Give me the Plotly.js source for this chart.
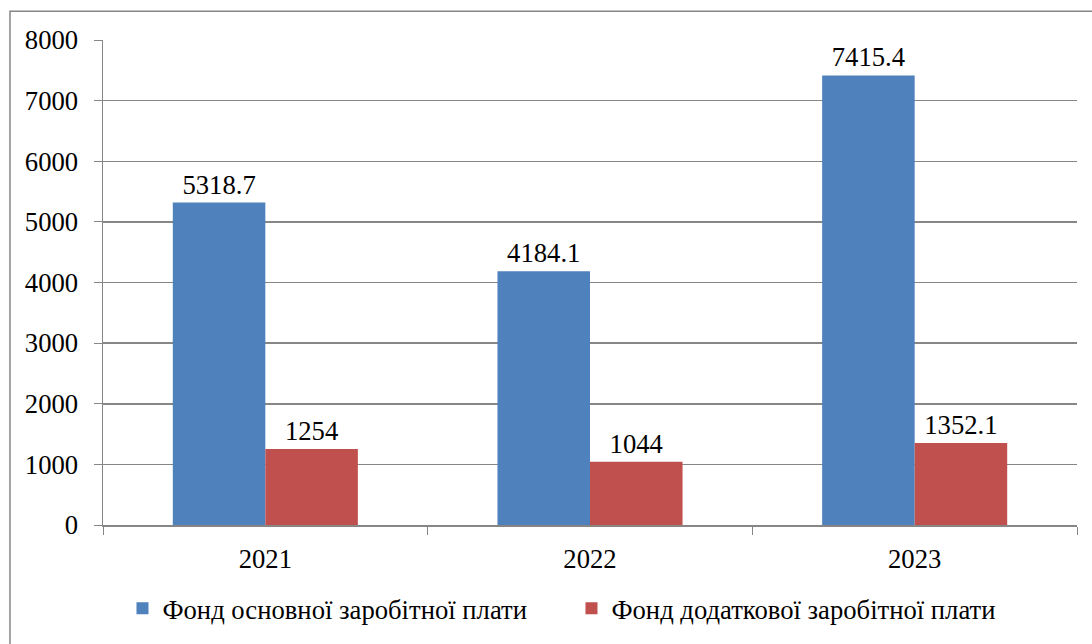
<!DOCTYPE html>
<html>
<head>
<meta charset="utf-8">
<script src="https://cdn.plot.ly/plotly-3.0.1.min.js"></script>
<style>html,body{margin:0;padding:0;background:#fff;}#chart{width:1092px;height:644px;}</style>
</head>
<body>
<div id="chart"></div>
<script>
const years = ["2021", "2022", "2023"];
const basicFund = [5318.7, 4184.1, 7415.4];
const extraFund = [1254, 1044, 1352.1];
const seriesNames = ["Фонд основної заробітної плати", "Фонд додаткової заробітної плати"];
const yTicks = [0, 1000, 2000, 3000, 4000, 5000, 6000, 7000, 8000];

const FS = 26.67;
function F(size) { return {family: "Liberation Serif", size: size || FS, color: "#000000"}; }

const traces = [
  {type: "bar", x: years, y: basicFund, name: seriesNames[0], marker: {color: "#4F81BD"},
   text: basicFund.map(String), textposition: "outside", textfont: F(FS), cliponaxis: false},
  {type: "bar", x: years, y: extraFund, name: seriesNames[1], marker: {color: "#C0504D"},
   text: extraFund.map(String), textposition: "outside", textfont: F(FS), cliponaxis: false}
];

const layout = {
  width: 1092, height: 644,
  margin: {l: 103, r: 15, t: 40, b: 117},
  paper_bgcolor: "#fff", plot_bgcolor: "#fff",
  font: F(FS),
  barmode: "group", bargap: 0.43, bargroupgap: 0,
  showlegend: true,
  legend: {orientation: "h", x: 0.02, xanchor: "left", y: -0.172, yanchor: "middle", font: F(FS),
           itemwidth: 30, entrywidth: 404, entrywidthmode: "pixels"},
  xaxis: {type: "category", tickson: "boundaries", ticks: "outside", ticklen: 8, tickcolor: "#868686",
          showline: true, linecolor: "#868686", linewidth: 1.5, showgrid: false, tickfont: F(FS),
          ticklabelstandoff: 9},
  yaxis: {range: [0, 8000], tickvals: yTicks, ticks: "outside", ticklen: 8, tickcolor: "#868686",
          showline: true, linecolor: "#868686", linewidth: 1.5, showgrid: true, gridcolor: "#868686",
          gridwidth: 1.5, zeroline: false, tickfont: F(FS), ticklabelstandoff: 10},
  shapes: [{type: "rect", xref: "paper", yref: "paper", x0: -0.0955, x1: 1.05, y0: -0.3, y1: 1.0595,
            line: {color: "#868686", width: 1.5}}]
};

Plotly.newPlot("chart", traces, layout, {staticPlot: true});
</script>
</body>
</html>
